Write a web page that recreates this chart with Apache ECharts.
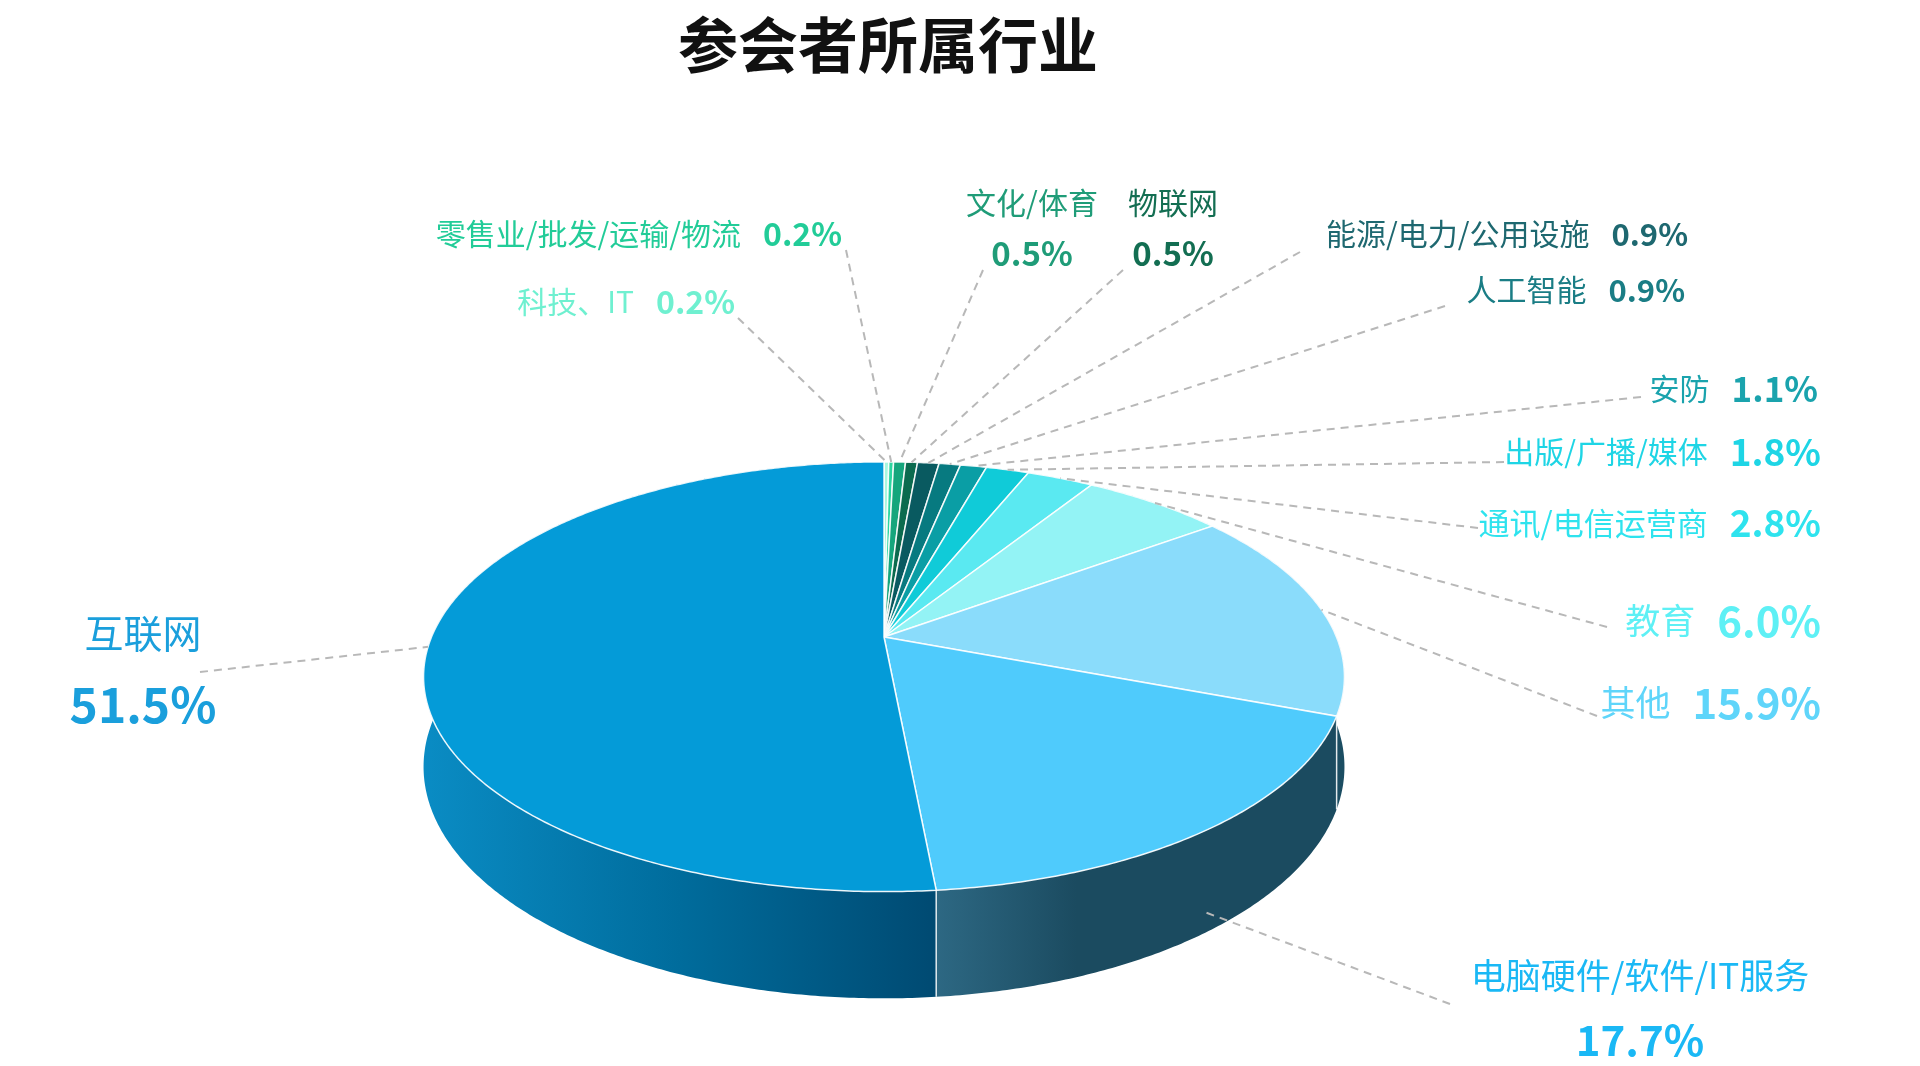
<!DOCTYPE html>
<html>
<head>
<meta charset="utf-8">
<title>参会者所属行业</title>
<script src="https://cdn.jsdelivr.net/npm/echarts@6/dist/echarts.min.js"></script>
<style>
html, body { margin: 0; padding: 0; background: #fff; }
#chart { width: 1920px; height: 1066px; }
</style>
</head>
<body>
<div id="chart"></div>
<script>
// 行业分类（从12点方向开始顺时针）
var industries = ['科技、IT', '零售业/批发/运输/物流', '文化/体育', '物联网', '能源/电力/公用设施', '人工智能',
  '安防', '出版/广播/媒体', '通讯/电信运营商', '教育', '其他', '电脑硬件/软件/IT服务', '互联网'];
// 占比 %
var shares = [0.2, 0.2, 0.5, 0.5, 0.9, 0.9, 1.1, 1.8, 2.8, 6.0, 15.9, 17.7, 51.5];

var sliceColors = ['#a8f7df', '#2cd6a0', '#15a67c', '#0b6b4f', '#095a60', '#077a80',
  '#0a9ea5', '#10cbd8', '#5ae9f1', '#93f3f5', '#8adcfb', '#4fcbfc', '#049bd8'];
var sideColors = [
  ['#6cc8ac', '#4a9a82'], ['#1c9a74', '#127058'], ['#0e7a5a', '#0a5a44'], ['#08503c', '#063a2c'],
  ['#064448', '#043236'], ['#055a5e', '#044448'], ['#087478', '#065458'], ['#0c96a0', '#087078'],
  ['#3eaab0', '#2c8088'], ['#62b0b4', '#488488'], ['#2a6a85', '#1b4d62'], ['#2d6883', '#1b4b60'],
  ['#0a8cc4', '#004a72']];
var labelColors = ['#6ff0d0', '#22cc98', '#1f9c78', '#136e52', '#1e6870', '#1a7d85',
  '#1aa3ad', '#1ed5e5', '#2ee3ee', '#5ef0f5', '#5fd5fa', '#1ab8f5', '#1a9fdc'];

// 标签位置与字号（版式，不是数据）
var labelLayout = [
  { x: 735, y: 302, align: 'right', n: 30, v: 32, lx: 738, ly: 318 },
  { x: 842, y: 234, align: 'right', n: 30, v: 32, lx: 846, ly: 250 },
  { x: 1032, y: 228, align: 'center', two: true, lh: 51, n: 30, v: 33, lx: 983, ly: 270 },
  { x: 1173, y: 228, align: 'center', two: true, lh: 51, n: 30, v: 33, lx: 1123, ly: 270 },
  { x: 1688, y: 234, align: 'right', n: 30, v: 31, lx: 1300, ly: 252 },
  { x: 1685, y: 290, align: 'right', n: 30, v: 31, lx: 1445, ly: 306 },
  { x: 1818, y: 389, align: 'right', n: 30, v: 35, lx: 1641, ly: 397 },
  { x: 1821, y: 452, align: 'right', n: 30, v: 37, lx: 1504, ly: 462 },
  { x: 1821, y: 523, align: 'right', n: 31, v: 37, lx: 1478, ly: 528 },
  { x: 1821, y: 621, align: 'right', n: 35, v: 42, lx: 1607, ly: 627 },
  { x: 1821, y: 703, align: 'right', n: 35, v: 42, lx: 1597, ly: 716 },
  { x: 1640, y: 1008, align: 'center', two: true, lh: 65, n: 35, v: 42, lx: 1450, ly: 1004 },
  { x: 143, y: 669, align: 'center', two: true, lh: 72, n: 39, v: 48, lx: 200, ly: 672 }
];

// 3D饼的几何参数
var CX = 884, CY = 637, RX = 452.5, RY = 207.5, DEPTH = 87, PERSP = 0.185;
var FONT = '"Noto Sans CJK SC", "Microsoft YaHei", sans-serif';

function rimPoint(theta, drop) {
  var X = Math.sin(theta), Z = -Math.cos(theta);
  var k = 1 / (1 - PERSP * Z);
  return [CX + RX * X * k, CY + RY * Z * k + (drop || 0) * DEPTH * k];
}

var total = shares.reduce(function (a, b) { return a + b; }, 0);
var starts = [];
var acc = 0;
shares.forEach(function (v) { starts.push(acc / total * Math.PI * 2); acc += v; });

function arcPoints(a0, a1, drop) {
  var steps = Math.max(2, Math.ceil((a1 - a0) / (Math.PI / 360)));
  var pts = [];
  for (var i = 0; i <= steps; i++) {
    pts.push(rimPoint(a0 + (a1 - a0) * i / steps, drop));
  }
  return pts;
}

function renderItem(params, api) {
  var i = params.dataIndex;
  var a0 = starts[i];
  var a1 = a0 + shares[i] / total * Math.PI * 2;
  var children = [];

  // 侧面
  var topArc = arcPoints(a0, a1, 0);
  var botArc = arcPoints(a0, a1, 1).reverse();
  children.push({
    type: 'polygon',
    z2: 1,
    shape: { points: topArc.concat(botArc) },
    style: {
      fill: new echarts.graphic.LinearGradient(0, 0, 1, 0, [
        { offset: 0, color: sideColors[i][0] },
        { offset: 0.35, color: sideColors[i][1] },
        { offset: 1, color: sideColors[i][1] }
      ])
    }
  });
  if (i === 12) {
    children[0].style.fill = new echarts.graphic.LinearGradient(0, 0, 1, 0, [
      { offset: 0, color: sideColors[i][0] },
      { offset: 0.5, color: '#006c9c' },
      { offset: 1, color: sideColors[i][1] }
    ]);
  }
  // 正面可见的分界线
  if (-Math.cos(a0) > 0.2) {
    children.push({
      type: 'line', z2: 5,
      shape: { x1: rimPoint(a0, 0)[0], y1: rimPoint(a0, 0)[1], x2: rimPoint(a0, 1)[0], y2: rimPoint(a0, 1)[1] },
      style: { stroke: 'rgba(255,255,255,0.85)', lineWidth: 1.5 }
    });
  }

  // 顶面
  children.push({
    type: 'polygon',
    z2: 10,
    shape: { points: [[CX, CY]].concat(topArc) },
    style: { fill: sliceColors[i], stroke: 'rgba(255,255,255,0.9)', lineWidth: 1.5 }
  });

  // 引导线
  var mid = (a0 + a1) / 2;
  var L = labelLayout[i];
  var end = rimPoint(mid, -Math.cos(mid) > 0.3 ? 0.8 : 0);
  children.push({
    type: 'polyline', z2: 20,
    shape: { points: [[L.lx, L.ly], end] },
    style: { fill: null, stroke: '#b8b8b8', lineWidth: 2, lineDash: [8, 6] }
  });

  // 标签
  var val = shares[i].toFixed(1) + '%';
  var txt = L.two ? '{n|' + industries[i] + '}\n{v|' + val + '}'
                  : '{n|' + industries[i] + '}{v|' + val + '}';
  children.push({
    type: 'text', z2: 30,
    style: {
      text: txt,
      x: L.x, y: L.y,
      align: L.align,
      verticalAlign: 'middle',
      rich: {
        n: { fontSize: L.n, fill: labelColors[i], fontFamily: FONT, lineHeight: L.lh || L.n },
        v: { fontSize: L.v, fill: labelColors[i], fontFamily: FONT, fontWeight: 'bold',
             lineHeight: L.lh || L.v, padding: L.two ? 0 : [0, 0, 0, 22] }
      }
    }
  });

  return { type: 'group', children: children };
}

var myChart = echarts.init(document.getElementById('chart'));
myChart.setOption({
  backgroundColor: '#fff',
  animation: false,
  title: {
    text: '参会者所属行业',
    left: 673,
    top: 10,
    textStyle: { fontSize: 60, fontWeight: 'bold', color: '#111', fontFamily: FONT }
  },
  series: [{
    type: 'custom',
    coordinateSystem: 'none',
    silent: true,
    renderItem: renderItem,
    data: shares
  }]
});
</script>
</body>
</html>
